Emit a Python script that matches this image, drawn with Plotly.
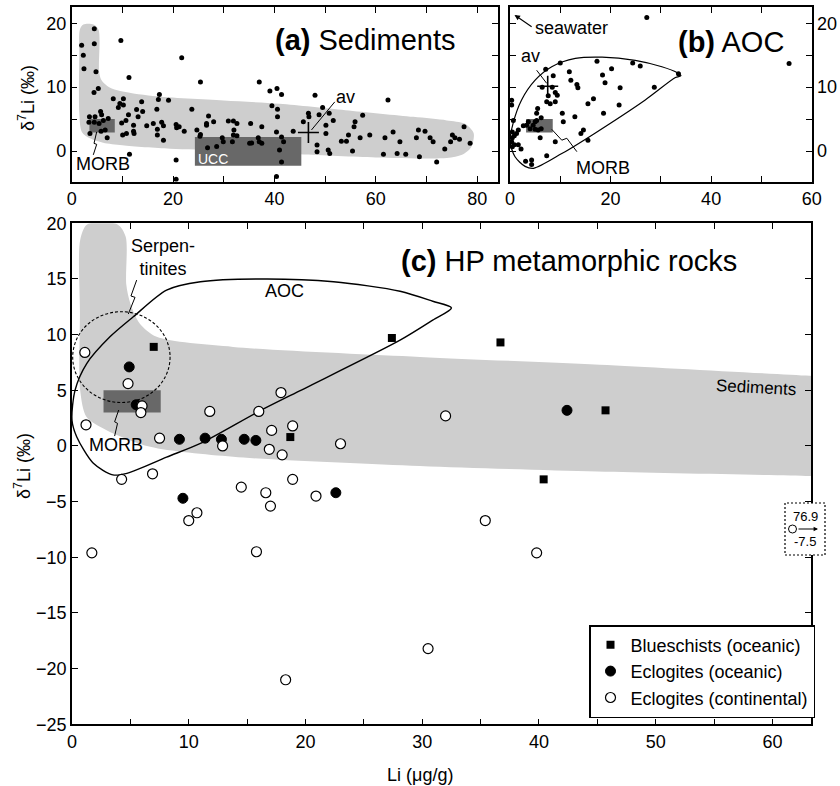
import plotly.graph_objects as go

FONT = "Liberation Sans, Arial, Helvetica, sans-serif"

# ---------------- Panel (a): sediments ----------------
sed_li = [1.96, 4.46, 2.29, 4.46, 2.42, 9.7, 4.79, 21.7, 11.3, 4.4, 5.25, 25.4, 37.0, 39.1, 40.5, 41.4,
          8.2, 10.2, 17.3, 17.1, 19.1, 9.5, 10.2, 9.2, 13.8, 12.8, 14.0, 16.8, 23.7, 39.5, 40.6,
          3.5, 4.6, 5.7, 5.9, 27.0, 26.6, 28.0, 30.9, 31.9, 32.6, 40.6, 3.4, 4.46, 5.4, 6.24, 7.2,
          6.6, 5.8, 9.86, 10.7, 12.2, 13.1, 11.2, 14.8, 16.1, 17.75, 18.1, 16.9, 20.6, 20.7, 21.2,
          22.2, 24.7, 26.6, 35.3, 37.5, 40.4, 3.6, 7.0, 10.05, 10.8, 12.2, 12.3, 16.9, 18.1, 25.3,
          25.4, 26.8, 28.6, 29.7, 29.9, 31.7, 31.9, 32.0, 32.6, 35.1, 35.5, 37.0, 37.5, 36.8, 41.4,
          41.8, 41.0, 41.4, 11.4, 20.6, 20.6, 40.4,
          48.0, 62.4, 46.7, 46.8, 45.7, 48.8, 50.8, 49.5, 51.6, 50.15, 50.15, 48.4, 48.4, 50.6,
          50.9, 43.7, 53.2, 54.2, 55.4, 54.6, 55.7, 55.9, 56.9, 57.4, 58.8, 61.8, 61.5, 63.4, 64.2,
          64.75, 65.9, 68.0, 68.4, 68.6, 69.7, 70.7, 71.3, 72.0, 73.6, 74.75, 75.1, 75.6, 76.5,
          77.4, 78.6]
sed_d7 = [16.55, 19.15, 15.0, 16.8, 12.9, 17.3, 12.4, 14.6, 11.5, 9.15, 9.8, 10.8, 10.8, 9.4, 9.8, 8.85,
          8.2, 8.2, 8.85, 8.06, 7.96, 7.44, 7.2, 6.8, 7.7, 6.5, 6.2, 6.55, 6.55, 7.1, 6.55,
          5.35, 5.35, 6.2, 5.7, 5.5, 4.3, 4.6, 4.7, 4.7, 4.3, 5.35, 4.5, 4.5, 4.3, 4.8, 5.1,
          3.3, 3.1, 4.4, 4.8, 4.05, 5.35, 5.7, 3.95, 4.3, 4.5, 3.95, 3.4, 4.15, 3.65, 3.8,
          3.1, 3.3, 4.05, 4.3, 3.8, 3.0, 2.75, 2.07, 2.5, 2.75, 3.1, 2.75, 2.5, 1.7, 2.3,
          2.6, 0.5, 0.7, 2.07, 1.45, 1.45, 2.5, 3.3, 2.4, 1.2, 1.25, 1.45, 1.2, 2.07, 2.2,
          1.45, 0.15, -1.7, -0.5, -1.4, -4.4, -4.0,
          8.75, 8.0, 5.9, 5.35, 4.6, 5.7, 5.9, 6.8, 4.8, 4.05, 2.75, 0.93, -0.1, 0.15,
          -0.4, 3.1, 1.55, 1.55, 0.0, 2.5, 3.8, 4.6, 2.07, 5.6, 2.5, 2.07, -0.5, 3.0, -0.4,
          1.45, -0.5, 2.07, 3.3, -0.9, 3.1, 2.07, 1.45, -1.7, 0.3, 1.45, 2.5, 2.07, 1.86,
          3.8, 1.2]
sed_av_li = [46.7]
sed_av_d7 = [2.9]
sed_field_li = [1.6, 2.3, 4.3, 5.3, 5.4, 5.8, 7.0, 9.0, 16, 30, 41, 54, 67.4, 74, 77.5, 79.3, 78.8,
                77, 74, 60, 45, 30, 19.4, 10, 6.2, 3.6, 2.0, 1.5, 1.5, 1.6]
sed_field_d7 = [19.0, 19.8, 19.8, 19.0, 12.5, 11.2, 10.2, 9.5, 8.6, 7.9, 7.4, 6.4, 5.35, 4.8, 4.3, 2.8,
                0.6, -0.6, -1.1, -1.0, -0.5, 0.1, 0.35, 0.9, 1.3, 2.0, 3.0, 6, 15, 19.0]
morb_a_li = [3.5, 8.5]
morb_a_d7 = [2.9, 5.0]
ucc_li = [24.3, 45.3]
ucc_d7 = [-2.3, 2.2]

# ---------------- Panel (b): altered oceanic crust ----------------
aoc_li = [27.2, 10.0, 17.3, 20.2, 24.4, 25.9, 33.5, 7.1, 11.8, 18.4, 18.9, 21.9, 28.7, 12.1, 13.3,
          13.5, 8.6, 8.4, 6.4, 9.0, 9.4, 7.6, 8.0, 7.3, 9.0, 16.6, 15.5, 21.7, 18.6, 12.9, 10.4,
          10.6, 5.5, 5.3, 6.2, 5.3, 5.0, 3.65, 3.3, 4.6, 4.0, 5.0, 5.6, 6.2, 6.0, 2.65, 1.65,
          1.3, 0.86, 0.46, 0.46, 0.33, 0.86, 1.65, 2.2, 0.46, 0.33, 0.33, 0.66, 9.0, 14.6, 14.1,
          15.5, 7.3, 3.1, 4.3, 4.3, 55.5]
aoc_d7 = [20.9, 13.8, 14.05, 12.9, 13.8, 13.3, 12.1, 12.8, 12.4, 11.9, 10.7, 9.9, 10.0, 11.1, 10.4,
          9.9, 11.8, 10.0, 10.0, 9.15, 8.75, 8.65, 7.4, 7.7, 7.7, 8.2, 7.4, 7.2, 5.9, 5.35, 5.9,
          4.6, 6.65, 5.9, 5.2, 4.8, 4.6, 4.6, 4.05, 4.05, 3.5, 3.4, 3.3, 3.5, 2.07, 3.95, 3.3,
          2.75, 2.4, 3.0, 2.07, 1.45, 1.0, 1.0, 0.3, 0.66, 7.2, 7.96, 4.8, 1.45, 3.3, 2.75,
          1.7, -0.74, -1.6, -1.4, -2.1, 13.7]
aoc_av_li = [7.5]
aoc_av_d7 = [10.15]
aoc_b_field_li = [0.0, 0.6, 2.3, 5.0, 8.3, 13.0, 18.3, 24.9, 30.2, 33.2, 34.0, 32.9, 26.9, 16.9, 10.3,
                  4.7, 3.0, 1.0, 0.0]
aoc_b_field_d7 = [1.5, 4.3, 8.0, 11.1, 13.2, 14.5, 14.7, 14.2, 13.2, 12.3, 11.8, 11.5, 8.0, 2.8, -0.4,
                  -2.7, -2.4, -0.9, 1.5]
morb_b_li = [3.2, 8.5]
morb_b_d7 = [2.9, 5.0]

# ---------------- Panel (c): HP metamorphic rocks ----------------
bs_li = [7.0, 27.4, 36.7, 18.7, 45.7, 40.4]
bs_d7 = [8.9, 9.7, 9.3, 0.8, 3.2, -3.0]
eo_li = [4.9, 5.5, 9.2, 11.4, 12.8, 14.75, 15.75, 9.5, 22.6, 42.4]
eo_d7 = [7.1, 3.7, 0.6, 0.7, 0.6, 0.6, 0.5, -4.7, -4.2, 3.2]
ec_li = [1.1, 4.8, 6.0, 5.9, 1.2, 7.5, 11.8, 12.9, 16.0, 17.9, 17.1, 18.9, 16.9, 18.0, 23.0, 4.25,
         6.9, 32.0, 18.9, 14.5, 16.6, 17.0, 20.9, 10.7, 10.0, 1.7, 15.8, 18.3, 35.4, 39.8, 30.5]
ec_d7 = [8.4, 5.6, 3.6, 3.0, 1.9, 0.7, 3.1, 0.0, 3.1, 4.8, 1.4, 1.8, -0.3, -0.8, 0.2, -3.0,
         -2.5, 2.7, -3.0, -3.7, -4.2, -5.4, -4.5, -6.0, -6.7, -9.6, -9.5, -21.0, -6.7, -9.6, -18.2]
off_scale_label = ["76.9", "-7.5"]

sed_c_field_li = [0.7, 1.3, 3.9, 4.6, 4.65, 5.0, 5.8, 7.25, 13.8, 29.8, 45.2, 63.2, 66, 66, 63.2, 45,
                  29.8, 13.8, 6.7, 3.0, 1.25, 0.7, 0.68, 0.7]
sed_c_field_d7 = [18.5, 19.9, 19.9, 18.8, 14.5, 12.8, 11.0, 9.8, 8.9, 8.0, 7.3, 6.3, 6.15, -2.8, -2.7,
                  -2.3, -1.8, -0.97, -0.07, 1.4, 2.6, 5, 12, 18.5]
aoc_c_field_li = [0.0, 0.26, 1.26, 3.25, 5.25, 8.1, 11.0, 16.7, 22.4, 28.1, 30.9, 32.5, 30.9, 28.1,
                  19.5, 16.0, 11.0, 8.1, 4.7, 3.5, 1.83, 0.4, 0.0]
aoc_c_field_d7 = [2.3, 5.0, 7.4, 9.8, 11.6, 14.0, 14.75, 15.0, 14.75, 13.9, 13.0, 12.4, 11.3, 9.5,
                  4.95, 3.1, 0.23, -1.0, -2.46, -2.6, -1.56, 0.83, 2.3]
serp_li = [0.06, 8.4]
serp_d7 = [3.9, 12.06]
morb_c_li = [2.7, 7.6]
morb_c_d7 = [3.0, 5.0]

FIELD = "#cecece"
BOX = "#686868"

fig = go.Figure()


def rect(xr, yr):
    return [xr[0], xr[1], xr[1], xr[0], xr[0]], [yr[0], yr[0], yr[1], yr[1], yr[0]]


def add_poly(xs, ys, xa, ya, fill=None, line_color=None, smooth=True, width=1.2):
    fig.add_trace(go.Scatter(
        x=xs, y=ys, xaxis=xa, yaxis=ya, mode="lines",
        fill="toself" if fill else None, fillcolor=fill,
        line=dict(color=line_color if line_color else "rgba(0,0,0,0)", width=width,
                  shape="spline" if smooth else "linear", smoothing=0.8),
        showlegend=False, hoverinfo="skip"))


def add_line(xs, ys, xa, ya, width=1.0):
    fig.add_trace(go.Scatter(x=xs, y=ys, xaxis=xa, yaxis=ya, mode="lines",
                             line=dict(color="black", width=width),
                             showlegend=False, hoverinfo="skip"))


# ---- panel a ----
add_poly(sed_field_li, sed_field_d7, "x2", "y2", fill=FIELD)
rx, ry = rect(morb_a_li, morb_a_d7)
add_poly(rx, ry, "x2", "y2", fill=BOX, smooth=False)
rx, ry = rect(ucc_li, ucc_d7)
add_poly(rx, ry, "x2", "y2", fill=BOX, smooth=False)
add_line([4.93, 4.4, 4.93, 4.26], [3.0, 1.2, 1.05, -0.6], "x2", "y2")
add_line([51.9, 47.3], [7.7, 3.3], "x2", "y2")
fig.add_trace(go.Scatter(x=sed_li, y=sed_d7, xaxis="x2", yaxis="y2", mode="markers",
                         marker=dict(size=5, color="black"), showlegend=False, hoverinfo="skip"))
fig.add_trace(go.Scatter(x=sed_av_li, y=sed_av_d7, xaxis="x2", yaxis="y2", mode="markers",
                         marker=dict(symbol="cross-thin", size=15, line=dict(width=1.6, color="black")),
                         showlegend=False, hoverinfo="skip"))

# ---- panel b ----
rx, ry = rect(morb_b_li, morb_b_d7)
add_poly(rx, ry, "x3", "y3", fill=BOX, smooth=False)
add_poly(aoc_b_field_li, aoc_b_field_d7, "x3", "y3", line_color="black")
add_line([8.3, 10.3, 11.3, 13.3], [3.4, 1.7, 2.0, -0.1], "x3", "y3")
add_line([5.3, 7.3], [12.65, 10.6], "x3", "y3")
fig.add_trace(go.Scatter(x=aoc_li, y=aoc_d7, xaxis="x3", yaxis="y3", mode="markers",
                         marker=dict(size=5, color="black"), showlegend=False, hoverinfo="skip"))
fig.add_trace(go.Scatter(x=aoc_av_li, y=aoc_av_d7, xaxis="x3", yaxis="y3", mode="markers",
                         marker=dict(symbol="cross-thin", size=15, line=dict(width=1.6, color="black")),
                         showlegend=False, hoverinfo="skip"))

# ---- panel c ----
add_poly(sed_c_field_li, sed_c_field_d7, "x", "y", fill=FIELD)
rx, ry = rect(morb_c_li, morb_c_d7)
add_poly(rx, ry, "x", "y", fill=BOX, smooth=False)
add_poly(aoc_c_field_li, aoc_c_field_d7, "x", "y", line_color="black", width=1.4)
add_line([5.54, 5.05, 5.4, 4.82], [14.9, 13.47, 13.35, 11.85], "x", "y")
add_line([4.0, 3.65, 3.9, 3.65], [3.23, 2.17, 2.03, 0.89], "x", "y")

fig.add_trace(go.Scatter(x=bs_li, y=bs_d7, mode="markers", name="Blueschists (oceanic)",
                         marker=dict(symbol="square", size=8, color="black"), legendgroup="a"))
fig.add_trace(go.Scatter(x=eo_li, y=eo_d7, mode="markers", name="Eclogites (oceanic)",
                         marker=dict(symbol="circle", size=10, color="black",
                                     line=dict(color="black", width=1)), legendgroup="b"))
fig.add_trace(go.Scatter(x=ec_li, y=ec_d7, mode="markers", name="Eclogites (continental)",
                         marker=dict(symbol="circle", size=10, color="white",
                                     line=dict(color="black", width=1.2)), legendgroup="c"))

# ---- axes ----
axis_common = dict(showline=True, linecolor="black", linewidth=1.5, ticks="inside", ticklen=6,
                   tickwidth=1.4, tickcolor="black", mirror="ticks", showgrid=False, zeroline=False,
                   automargin=False, tickfont=dict(family=FONT, size=18, color="black"))

c_xt = list(range(0, 61, 5))
c_xl = [str(v) if v % 10 == 0 else "" for v in c_xt]
a_xt = list(range(0, 81, 10))
a_xl = [str(v) if v % 20 == 0 else "" for v in a_xt]
b_xt = list(range(0, 61, 10))
b_xl = [str(v) if v % 20 == 0 else "" for v in b_xt]
ab_yt = [0, 5, 10, 15, 20]
ab_yl = ["0", "", "10", "", "20"]

fig.update_layout(
    width=840, height=786, margin=dict(l=0, r=0, t=0, b=0, autoexpand=False),
    paper_bgcolor="white", plot_bgcolor="white",
    font=dict(family=FONT, size=18, color="black"),
    xaxis=dict(domain=[72 / 840, 811 / 840], range=[0, 63.3], anchor="y",
               tickvals=c_xt, ticktext=c_xl, **axis_common),
    yaxis=dict(domain=[1 - 724.3 / 786, 1 - 223.3 / 786], range=[-25, 20], anchor="x",
               tickvals=list(range(-25, 21, 5)), **axis_common),
    xaxis2=dict(domain=[71.7 / 840, 498 / 840], range=[0, 84.1], anchor="y2",
                tickvals=a_xt, ticktext=a_xl, **axis_common),
    yaxis2=dict(domain=[1 - 181.7 / 786, 1 - 7 / 786], range=[-4.8, 22.55], anchor="x2",
                tickvals=ab_yt, ticktext=ab_yl, **axis_common),
    xaxis3=dict(domain=[510 / 840, 811.7 / 840], range=[0, 60], anchor="y3",
                tickvals=b_xt, ticktext=b_xl, **axis_common),
    yaxis3=dict(domain=[1 - 181.7 / 786, 1 - 7 / 786], range=[-4.8, 22.55], anchor="x3", side="right",
                tickvals=ab_yt, ticktext=ab_yl, **axis_common),
    legend=dict(x=589 / 840, y=1 - 625 / 786, xanchor="left", yanchor="top", bgcolor="white",
                bordercolor="black", borderwidth=1.5, font=dict(family=FONT, size=18),
                tracegroupgap=0, traceorder="grouped"),
    showlegend=True,
)

shapes = [
    dict(type="circle", xref="x", yref="y", x0=serp_li[0], x1=serp_li[1], y0=serp_d7[0], y1=serp_d7[1],
         line=dict(color="black", width=1.1, dash="3px,2px"), layer="above"),
    dict(type="rect", xref="paper", yref="paper", x0=785 / 840, x1=825 / 840,
         y0=1 - 555 / 786, y1=1 - 503 / 786, line=dict(color="black", width=1.2, dash="2px,2px"),
         fillcolor="white", layer="above"),
    dict(type="circle", xref="paper", yref="paper", x0=788.5 / 840, x1=796.5 / 840,
         y0=1 - 533 / 786, y1=1 - 525 / 786, line=dict(color="black", width=1), layer="above"),
]
fig.update_layout(shapes=shapes)

ann = []


def A(text, x, y, xref, yref, size=18, **kw):
    d = dict(text=text, x=x, y=y, xref=xref, yref=yref, showarrow=False,
             xanchor="center", yanchor="middle",
             font=dict(family=FONT, size=size, color=kw.pop("color", "black")))
    d.update(kw)
    ann.append(d)


# panel a labels
A("<b>(a)</b> Sediments", 57.9, 17.4, "x2", "y2", size=29)
A("av", 54.1, 8.4, "x2", "y2")
A("MORB", 6.2, -2.0, "x2", "y2")
A("UCC", 24.6, -1.25, "x2", "y2", size=14, color="white", xanchor="left")
# panel b labels
A("<b>(b)</b> AOC", 44.0, 17.1, "x3", "y3", size=29)
A("av", 4.0, 14.9, "x3", "y3")
A("MORB", 18.4, -2.6, "x3", "y3")
A("seawater", 12.25, 19.3, "x3", "y3")
ann.append(dict(text="", x=0.9, y=21.3, xref="x3", yref="y3", ax=4.6, ay=19.3, axref="x3", ayref="y3",
                showarrow=True, arrowhead=2, arrowsize=1, arrowwidth=1.1, arrowcolor="black"))
# panel c labels
A("<b>(c)</b> HP metamorphic rocks", 42.55, 16.6, "x", "y", size=29)
A("Serpen-<br>tinites", 7.8, 16.9, "x", "y")
A("AOC", 18.2, 13.9, "x", "y")
A("MORB", 3.8, 0.1, "x", "y")
A("Sediments", 58.6, 5.25, "x", "y", size=17, textangle=3)
# off-scale point
A(off_scale_label[0], 805 / 840, 1 - 516 / 786, "paper", "paper", size=13)
A(off_scale_label[1], 805 / 840, 1 - 541 / 786, "paper", "paper", size=13)
ann.append(dict(text="", x=818 / 840, y=1 - 529 / 786, xref="paper", yref="paper",
                ax=-21, ay=0, axref="pixel", ayref="pixel",
                showarrow=True, arrowhead=2, arrowsize=0.8, arrowwidth=1.1, arrowcolor="black"))
# axis titles
A("δ<sup>7</sup>Li (‰)", 27 / 840, 1 - 98 / 786, "paper", "paper", textangle=-90)
A("δ<sup>7</sup>Li (‰)", 22 / 840, 1 - 466 / 786, "paper", "paper", textangle=-90)
A("Li (μg/g)", 420 / 840, 1 - 775 / 786, "paper", "paper")
fig.update_layout(annotations=ann)

fig.write_html("out.html", config={"displayModeBar": False})
